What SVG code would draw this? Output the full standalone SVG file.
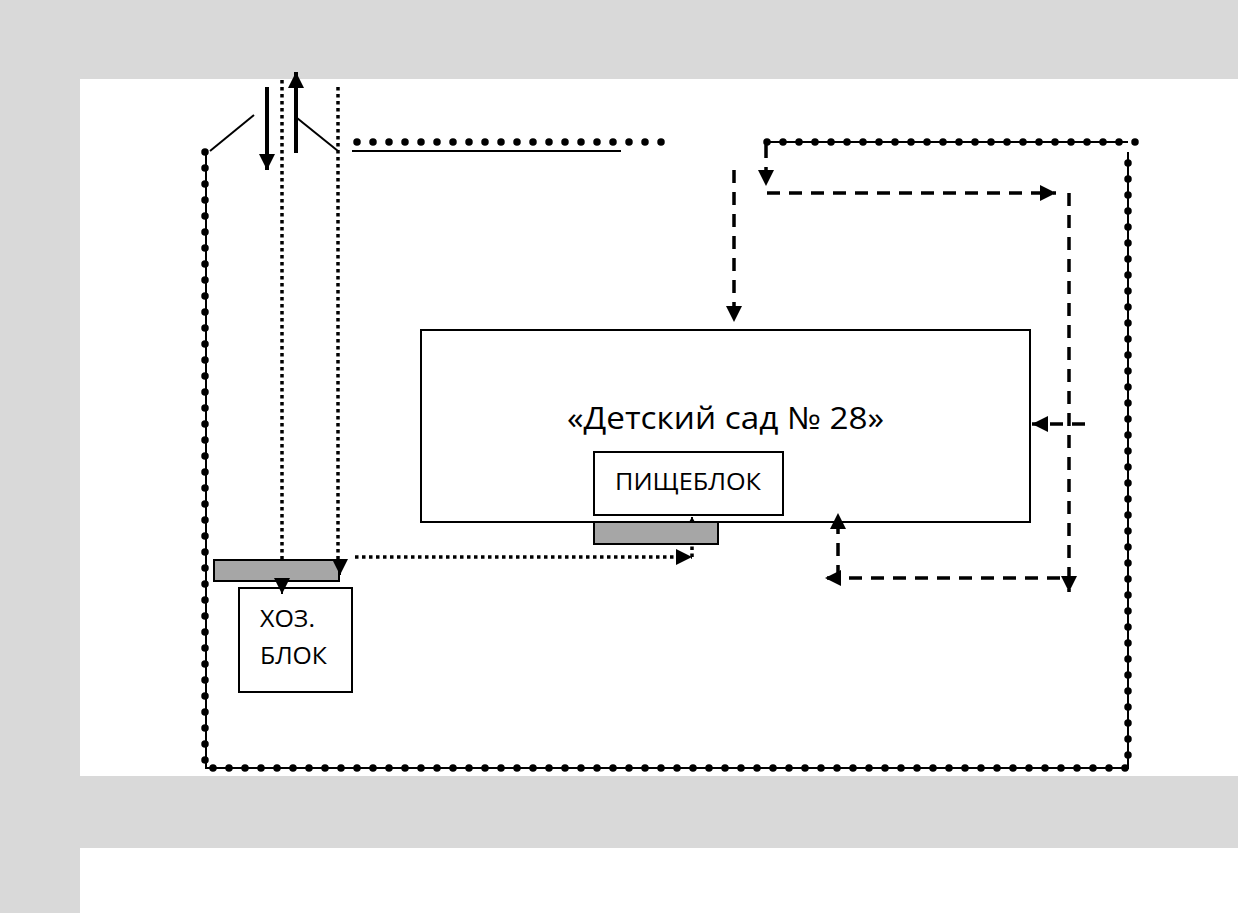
<svg xmlns="http://www.w3.org/2000/svg" width="1238" height="913" viewBox="0 0 1238 913">
<style>
.band{fill:#d9d9d9}
.box{fill:#ffffff;stroke:#000;stroke-width:2}
.pad{fill:#a6a6a6;stroke:#000;stroke-width:2}
.fence{fill:none;stroke:#000;stroke-width:2}
.dots{fill:none;stroke:#000;stroke-width:7.5;stroke-linecap:round;stroke-dasharray:0 16}
.thin{fill:none;stroke:#000;stroke-width:2}
.solid{fill:none;stroke:#000;stroke-width:4}
.dotted{fill:none;stroke:#000;stroke-width:3.5;stroke-dasharray:3.5 3.5}
.dashed{fill:none;stroke:#000;stroke-width:3.5;stroke-dasharray:13 9}
.lbl{font-family:"Open Sans","Noto Sans",sans-serif;fill:#000}
</style>
<defs>
<marker id="ah" markerUnits="userSpaceOnUse" markerWidth="18" markerHeight="18" refX="16" refY="8" orient="auto">
<path d="M0,0 L16,8 L0,16 z" fill="#000"/>
</marker>
<marker id="ahs" markerUnits="userSpaceOnUse" markerWidth="8" markerHeight="8" refX="5" refY="3" orient="auto">
<path d="M0,0 L5,3 L0,6 z" fill="#000"/>
</marker>
</defs>

<g id="background">
<rect class="band" x="0" y="0" width="1238" height="79"/>
<rect class="band" x="0" y="0" width="80" height="913"/>
<rect class="band" x="80" y="776" width="1158" height="72"/>
</g>

<g id="fence">
<path class="fence" d="M206,152 V768 H1128 V152"/>
<path class="dots" d="M205,152 V768 H1128 V152"/>
<path class="fence" d="M767,142 H1128"/>
<path class="dots" d="M767,142 H1145"/>
<path class="dots" d="M357,142 H663"/>
<path class="thin" d="M352,151 H621"/>
<path class="thin" d="M210,151 L254,115"/>
<path class="thin" d="M297,118 L338,151"/>
</g>

<g id="kindergarten">
<rect class="box" x="421" y="330" width="609" height="192"/>
<text class="lbl" x="567" y="429" font-size="31" textLength="317" lengthAdjust="spacingAndGlyphs">«Детский сад № 28»</text>
</g>

<g id="food-block">
<rect class="box" x="594" y="452" width="189" height="63"/>
<text class="lbl" x="615" y="490" font-size="23" textLength="146" lengthAdjust="spacingAndGlyphs">ПИЩЕБЛОК</text>
</g>

<g id="food-pad">
<rect class="pad" x="594" y="522" width="124" height="22"/>
</g>

<g id="household-pad">
<rect class="pad" x="214" y="560" width="125" height="21"/>
</g>

<g id="household-block">
<rect class="box" x="239" y="588" width="113" height="104"/>
<text class="lbl" x="260" y="627" font-size="23" textLength="55" lengthAdjust="spacingAndGlyphs">ХОЗ.</text>
<text class="lbl" x="260" y="664" font-size="23" textLength="67" lengthAdjust="spacingAndGlyphs">БЛОК</text>
</g>

<g id="connectors">
<path class="solid" d="M267,87 V170" marker-end="url(#ah)"/>
<path class="solid" d="M296,153 V72" marker-end="url(#ah)"/>
<path class="dotted" d="M282,80 V560"/>
<path class="thin" d="M282,581 V594" marker-end="url(#ah)"/>
<path class="dotted" d="M338,87 V560"/>
<path class="thin" d="M340,562 V575" marker-end="url(#ah)"/>
<path class="dotted" d="M355,557 H692" marker-end="url(#ah)"/>
<path class="dotted" d="M692,557 V546"/>
<path class="thin" d="M692,522 V517" marker-end="url(#ahs)"/>
<path class="dashed" d="M766,145 V186" marker-end="url(#ah)"/>
<path class="dashed" d="M767,193 H1056" marker-end="url(#ah)"/>
<path class="dashed" d="M1069,193 V592" marker-end="url(#ah)"/>
<path class="dashed" d="M1085,424 H1032" marker-end="url(#ah)"/>
<path class="dashed" d="M1060,578 H825" marker-end="url(#ah)"/>
<path class="dashed" d="M838,578 V513" marker-end="url(#ah)"/>
<path class="dashed" d="M734,170 V322" marker-end="url(#ah)"/>
</g>
</svg>
